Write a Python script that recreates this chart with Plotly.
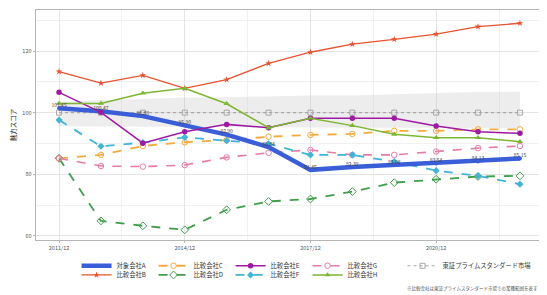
import plotly.graph_objects as go

years = [2011, 2012, 2013, 2014, 2015, 2016, 2017, 2018, 2019, 2020, 2021, 2022]
tick_years = [2011, 2014, 2017, 2020]
tick_labels = ["2011/12", "2014/12", "2017/12", "2020/12"]

company_a = [101.45, 100.47, 98.88, 95.9, 92.9, 88.84, 81.45, 82.39, 83.08, 83.54, 84.13, 85.15]
company_b = [113.3, 109.6, 112.1, 107.9, 110.7, 116.0, 119.6, 122.2, 123.8, 125.5, 127.9, 129.0]
company_c = [85.2, 86.3, 89.2, 90.4, 91.1, 92.2, 92.8, 93.1, 94.1, 94.1, 94.6, 94.6]
company_d = [85.2, 64.9, 63.3, 62.0, 68.5, 71.2, 72.0, 74.4, 77.3, 78.4, 79.3, 79.5]
company_e = [106.6, 100.1, 90.1, 93.8, 96.2, 95.1, 98.2, 98.2, 98.2, 95.7, 93.8, 93.3]
company_f = [97.6, 89.1, 90.3, 92.0, 90.9, 89.9, 86.3, 86.3, 84.1, 81.2, 79.5, 76.8]
company_g = [85.2, 82.7, 82.5, 83.0, 85.5, 87.0, 87.9, 86.3, 86.3, 87.4, 88.5, 89.2]
company_h = [103.0, 103.0, 106.3, 107.9, 102.9, 95.1, 98.2, 95.8, 93.0, 91.9, 91.9, 90.6]
market = [100, 100, 100, 100, 100, 100, 100, 100, 100, 100, 100, 100]
market_upper = [103.5, 104.1, 104.4, 104.9, 105.0, 105.3, 105.6, 105.6, 106.1, 106.4, 106.7, 106.8]
market_lower = [95.6, 95.5, 95.4, 95.4, 95.3, 95.2, 95.2, 95.1, 95.1, 95.0, 95.0, 95.0]

names = {
    "A": "対象会社A", "B": "比較会社B", "C": "比較会社C", "D": "比較会社D",
    "E": "比較会社E", "F": "比較会社F", "G": "比較会社G", "H": "比較会社H",
    "M": "東証プライムスタンダード市場",
}
y_title = "魅力スコア"
footnote = "※比較会社は東証プライムスタンダード市場での業種範囲を表す"

FONT = "Noto Sans CJK JP"
fig = go.Figure()

# market band
fig.add_trace(go.Scatter(x=years, y=market_upper, mode="lines", line=dict(width=0),
                         showlegend=False, hoverinfo="skip"))
fig.add_trace(go.Scatter(x=years, y=market_lower, mode="lines", line=dict(width=0),
                         fill="tonexty", fillcolor="rgba(200,200,200,0.32)",
                         showlegend=False, hoverinfo="skip"))

def add(y, key, color, dash, symbol, width, msize, legend, rank, mline=None):
    fig.add_trace(go.Scatter(
        x=years, y=y, name=names[key], mode="lines+markers",
        line=dict(color=color, width=width, dash=dash),
        marker=dict(symbol=symbol, size=msize, color=color,
                    line=dict(color=color, width=mline if mline else 0)),
        legend=legend, legendrank=rank))

add(market, "M", "#A8A8A8", "dot", "square-open", 1.2, 5, "legend3", 1, 1)
add(company_b, "B", "#E8522F", "solid", "star", 1.3, 5, "legend2", 1)
add(company_c, "C", "#F5AA3C", "dash", "circle-open", 1.8, 5.5, "legend", 2, 1)
add(company_d, "D", "#3E9E4C", "dash", "diamond-open", 1.8, 6, "legend2", 2, 1)
add(company_g, "G", "#E67BA5", "dash", "circle-open", 1.6, 5.5, "legend", 4, 1)
add(company_f, "F", "#41B4D8", "dash", "diamond", 1.8, 5.5, "legend2", 3)
add(company_a, "A", "#3A5ED8", "solid", "circle", 4.5, 4, "legend", 1)
add(company_e, "E", "#9E1AA3", "solid", "circle", 1.5, 5.5, "legend", 3)
add(company_h, "H", "#7DB632", "solid", "triangle-up", 1.5, 5.5, "legend2", 4)

# labels of the target company
fig.add_trace(go.Scatter(x=years, y=company_a, mode="text",
                         text=[f"{v:.2f}" for v in company_a],
                         textposition="top center",
                         textfont=dict(size=5, color="#444444", family=FONT),
                         showlegend=False, hoverinfo="skip"))

axis_common = dict(showline=True, linecolor="#B5B5B5", linewidth=0.8, mirror=True,
                   ticks="outside", ticklen=2.5, tickcolor="#B5B5B5", tickwidth=0.8,
                   gridcolor="#E4E4E4", gridwidth=0.6, zeroline=False,
                   tickfont=dict(size=5.5, color="#555555", family=FONT))

fig.update_xaxes(range=[2010.45, 2022.55], tickmode="array", tickvals=tick_years,
                 ticktext=tick_labels,
                 minor=dict(tickmode="linear", tick0=2012.5, dtick=3, showgrid=True,
                            gridcolor="#F1F1F1", gridwidth=0.5),
                 **axis_common)
fig.update_yaxes(range=[58.7, 133.3], tickmode="linear", tick0=60, dtick=20,
                 minor=dict(tickmode="linear", tick0=70, dtick=20, showgrid=True,
                            gridcolor="#F1F1F1", gridwidth=0.5),
                 title=dict(text=y_title, font=dict(size=6.5, color="#222222", family=FONT),
                            standoff=6),
                 **axis_common)

legend_common = dict(orientation="h", xanchor="left", yanchor="middle",
                     traceorder="normal",
                     font=dict(size=6.3, color="#333333", family=FONT),
                     itemwidth=30, bgcolor="rgba(0,0,0,0)", tracegroupgap=0,
                     itemclick=False)

lx = 0.08
fig.update_layout(
    width=539, height=287,
    margin=dict(l=28, r=4, t=2, b=55, autoexpand=False),
    plot_bgcolor="white", paper_bgcolor="white",
    font=dict(family=FONT),
    legend=dict(x=lx, y=-0.112, entrywidth=32, entrywidthmode="pixels", **legend_common),
    legend2=dict(x=lx, y=-0.152, entrywidth=32, entrywidthmode="pixels", **legend_common),
    legend3=dict(x=lx + 82 / 507 * 4 - 0.004, y=-0.112, **legend_common),
    annotations=[dict(text=footnote, xref="paper", yref="paper", x=0.995, y=-0.209,
                      xanchor="right", yanchor="middle", showarrow=False,
                      font=dict(size=4.5, color="#555555", family=FONT))],
)

fig.write_html("out.html")
